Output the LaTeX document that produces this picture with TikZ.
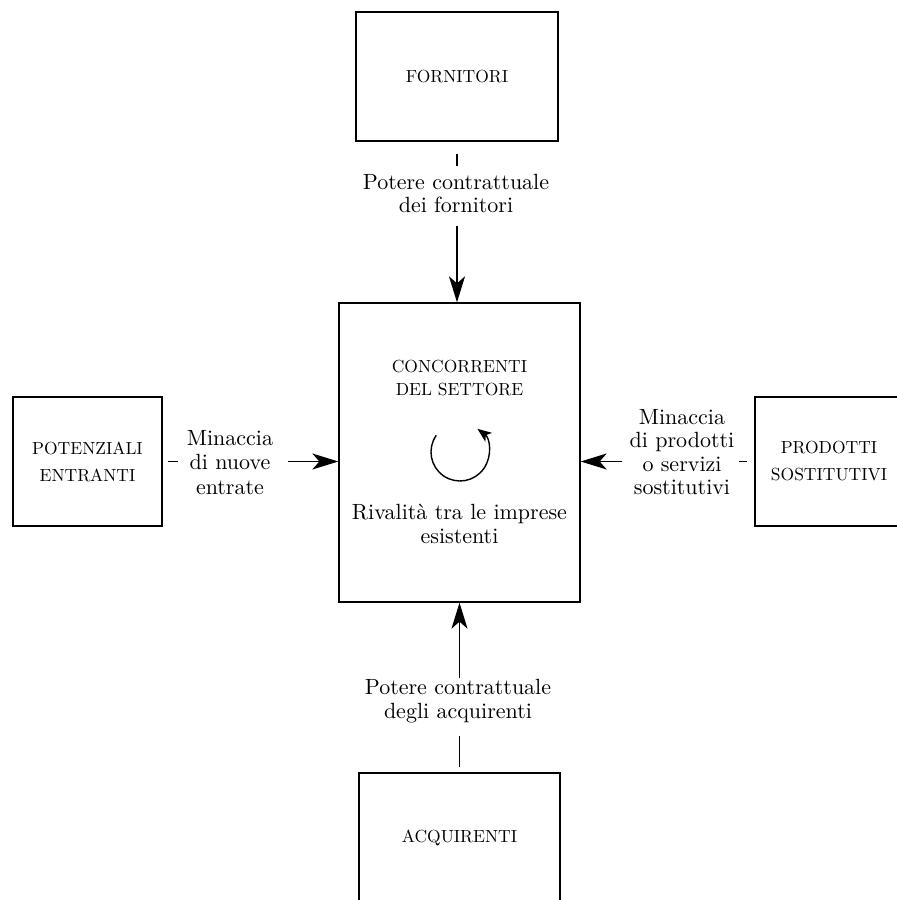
\documentclass[tikz,border=0pt]{standalone}
\usepackage{fontspec}
\setmainfont{lmroman10-regular.otf}
\usetikzlibrary{arrows.meta,calc}
\begin{document}
\begin{tikzpicture}[x=1pt,y=1pt,
  box/.style={draw, line width=1.3pt, inner sep=0pt, align=center, font=\fontsize{17.5}{27}\selectfont},
  capt/.style={inner sep=0pt, align=center, font=\fontsize{17.5}{23}\selectfont},
  lab/.style={inner sep=0pt, align=center, font=\fontsize{22}{23.5}\selectfont},
  arr/.style={line width=1.7pt, -{Stealth[length=26pt,width=16pt,inset=7pt]}},
  circarr/.style={line width=1.4pt, -{Stealth[length=14pt,width=11pt,inset=3.5pt]}},
  tickline/.style={line width=1.5pt}]
\useasboundingbox (0,0) rectangle (897,900);
% boxes
\node[box, minimum width=202, minimum height=129] (forn) at (457,823.5) {FORNITORI};
\node[box, minimum width=241, minimum height=299] (conc) at (459.5,447.5) {};
\node[box, minimum width=149, minimum height=129] (pot) at (87.5,438.5) {POTENZIALI\\ENTRANTI};
\node[box, minimum width=148, minimum height=129] (prod) at (829,438.5) {PRODOTTI\\SOSTITUTIVI};
\node[box, minimum width=201, minimum height=129] (acq) at (459.5,62.5) {ACQUIRENTI};
% central contents
\node[capt] (conctext) at (459.5,521.5) {CONCORRENTI\\DEL SETTORE};
\node[lab] (riv) at (459.5,376) {Rivalità tra le imprese\\esistenti};
\coordinate (cc) at (460,448);
\draw[circarr] (cc) ++(145:29) arc[start angle=145, end angle=413, radius=29];
% labels
\node[lab] (lt) at (456,706.5) {Potere contrattuale\\dei fornitori};
\node[lab] (lb) at (458,199) {Potere contrattuale\\degli acquirenti};
\node[lab, font=\fontsize{22}{24.5}\selectfont] (ll) at (230,437.5) {Minaccia\\di nuove\\entrate};
\node[lab] (lr) at (682,448) {Minaccia\\di prodotti\\o servizi\\sostitutivi};
% top
\draw[tickline] ([yshift=-12pt]forn.south) -- ([yshift=-24pt]forn.south);
\draw[arr] ([yshift=-84pt]forn.south) -- (forn.south |- conc.north);
% bottom
\draw[tickline] ([yshift=5pt]acq.north) -- ([yshift=36pt]acq.north);
\draw[arr] ([yshift=-75pt]conc.south) -- (conc.south);
% left
\draw[tickline] ([xshift=5pt]pot.east) -- ([xshift=15pt]pot.east);
\draw[arr] ([xshift=125pt]pot.east) -- (pot.east -| conc.west);
% right
\draw[tickline] ([xshift=-15pt]prod.west) -- ([xshift=-7pt]prod.west);
\draw[arr] ([xshift=-132pt]prod.west) -- (prod.west -| conc.east);
\end{tikzpicture}
\end{document}
